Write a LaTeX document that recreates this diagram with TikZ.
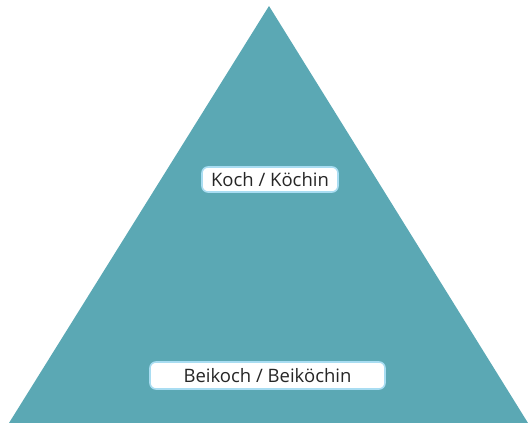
\documentclass[tikz,border=0pt]{standalone}
\usepackage{fontspec}
\setmainfont{Open Sans}
\definecolor{teal1}{HTML}{5BA8B4}
\definecolor{lblue}{HTML}{A9DDF2}
\begin{document}
\begin{tikzpicture}[x=1pt,y=-1pt,
  lbl/.style={draw=lblue, line width=1.6pt, fill=white, rounded corners=6pt, inner sep=0pt, font=\fontsize{18.5}{22}\selectfont, text=black!85}]
\useasboundingbox (0,0) rectangle (528,423);
\fill[teal1] (269,6) coordinate (apex) -- (528,423) coordinate (br) -- (9,423) coordinate (bl) -- cycle;
\node[lbl, minimum width=136pt, minimum height=25pt] (koch) at (270,179.5) {Koch / Köchin};
\node[lbl, minimum width=235pt, minimum height=27pt] (bei) at (267.5,375.5) {Beikoch / Beiköchin};
\end{tikzpicture}
\end{document}
